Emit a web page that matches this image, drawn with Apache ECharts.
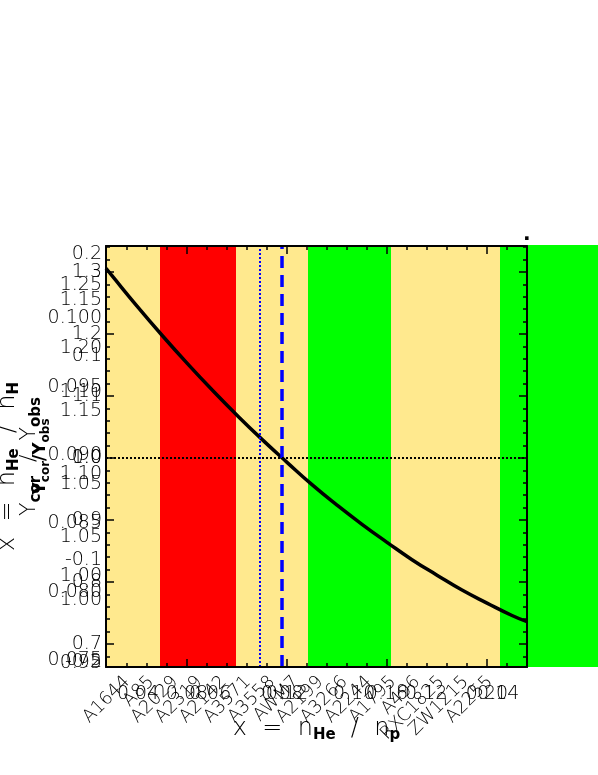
<!DOCTYPE html>
<html>
<head>
<meta charset="utf-8">
<script src="https://cdn.jsdelivr.net/npm/echarts@6/dist/echarts.min.js"></script>
<style>
  html, body { margin: 0; padding: 0; background: #fff; }
  #chart { width: 598px; height: 775px; }
</style>
</head>
<body>
<div id="chart"></div>
<script>
// curve: x = n_He / n_p (main axis units) vs Y_cor / Y_obs
const curveX = [0.0476, 0.05, 0.06, 0.07, 0.08, 0.09, 0.10, 0.11, 0.12, 0.13, 0.14, 0.15, 0.16, 0.17, 0.18, 0.19, 0.20, 0.21, 0.216]
const curveY = [1.306, 1.294, 1.245, 1.198, 1.153, 1.110, 1.069, 1.030, 0.993, 0.957, 0.924, 0.893, 0.864, 0.836, 0.811, 0.787, 0.766, 0.746, 0.736]

// coloured bands along x
const bandEdges = [0.0476, 0.0692, 0.0996, 0.1284, 0.1616, 0.2052, 0.216]
const bandColors = ['#ffe98e', '#ff0000', '#ffe98e', '#00ff00', '#ffe98e', '#00ff00']

// reference lines
const dottedX = 0.1092
const dashedX = 0.118
const refY = 1.0

// ticks of the frame
const majorX = [0.08, 0.12, 0.16, 0.20]
const minorX = [0.056, 0.064, 0.072, 0.088, 0.096, 0.104, 0.112, 0.128, 0.136, 0.144, 0.152, 0.168, 0.176, 0.184, 0.192, 0.208]
const majorY = [0.7, 0.8, 0.9, 1.0, 1.1, 1.2, 1.3]
const minorY = [0.68, 0.72, 0.74, 0.76, 0.78, 0.82, 0.84, 0.86, 0.88, 0.92, 0.94, 0.96, 0.98, 1.02, 1.04, 1.06, 1.08, 1.12, 1.14, 1.16, 1.18, 1.22, 1.24, 1.26, 1.28, 1.32, 1.34]

// extra tick label sets drawn on top of each other
const xLabels2 = [0.04, 0.06, 0.08, 0.10, 0.12, 0.14]
const yLabelsHeH = [0.075, 0.080, 0.085, 0.090, 0.095, 0.100]
const yLabelsC = [0.95, 1.00, 1.05, 1.10, 1.15, 1.20, 1.25]
const yLabelsD = [1.00, 1.05, 1.10, 1.15]
const yLabelsE = [-0.2, -0.1, 0.0, 0.1, 0.2]

const clusters = ['A1644', 'A85', 'A2029', 'A2319', 'A2142', 'A3571', 'A3558', 'AWM7', 'A2199', 'A3266', 'A2244', 'A1795', 'A496', 'RXC1825', 'ZW1215', 'A2255']

const FONT = 'DejaVu Sans'
const W = 200

function tickAxis(pos, min, max, values, len, showLine) {
  return {
    type: 'value', gridIndex: 0, position: pos, min: min, max: max, z: 5,
    axisLine: { show: showLine, onZero: false, lineStyle: { color: '#000', width: 2 } },
    axisTick: { show: true, inside: true, length: len, customValues: values, lineStyle: { color: '#000', width: 1.5 } },
    axisLabel: { show: false },
    splitLine: { show: false }
  }
}

function labelAxis(pos, min, max, values, digits, margin) {
  return {
    type: 'value', gridIndex: 0, position: pos, min: min, max: max,
    axisLine: { show: false }, axisTick: { show: false }, splitLine: { show: false },
    axisLabel: {
      customValues: values, margin: margin, color: '#000', fontFamily: FONT, fontWeight: W, fontSize: 19,
      formatter: v => v.toFixed(digits)
    }
  }
}

const subRich = { s: { fontFamily: FONT, fontSize: 15, fontWeight: 'bold', verticalAlign: 'bottom', padding: [14, 0, 0, 0] } }

const xMin = 0.0476, xMax = 0.216
const yMin = 0.6629, yMax = 1.3419

const xMain = tickAxis('bottom', xMin, xMax, majorX, 8, true)
xMain.axisLabel = { show: true, customValues: majorX, margin: 18, color: '#000', fontFamily: FONT, fontWeight: W, fontSize: 19, formatter: v => v.toFixed(2) }
xMain.name = 'x  =  n{s|He}  /  n{s|p}'
xMain.nameLocation = 'middle'
xMain.nameGap = 47
xMain.nameMoveOverlap = false
xMain.nameTextStyle = { color: '#000', fontFamily: FONT, fontWeight: W, fontSize: 24, rich: subRich }

const yMain = tickAxis('left', yMin, yMax, majorY, 8, true)
yMain.axisLabel = { show: true, customValues: majorY, margin: 4, color: '#000', fontFamily: FONT, fontWeight: W, fontSize: 19, formatter: v => v.toFixed(1) }
yMain.name = 'Y{s|cor}  /  Y{s|obs}'
yMain.nameLocation = 'middle'
yMain.nameGap = 62
yMain.nameMoveOverlap = false
yMain.nameTextStyle = { color: '#000', fontFamily: FONT, fontWeight: W, fontSize: 22, rich: subRich }

const yHeH = labelAxis('left', 0.0745, 0.1053, yLabelsHeH, 3, 4)
yHeH.name = 'x  =  n{s|He}  /  n{s|H}'
yHeH.nameLocation = 'middle'
yHeH.nameGap = 84
yHeH.nameMoveOverlap = false
yHeH.nameTextStyle = { color: '#000', fontFamily: FONT, fontWeight: W, fontSize: 24, padding: [0, 20, 0, 0], rich: subRich }

const yC = labelAxis('left', 0.9468, 1.281, yLabelsC, 2, 4)
yC.name = 'Y{t|cor}/Y{t|obs}'
yC.nameLocation = 'middle'
yC.nameGap = 54
yC.nameMoveOverlap = false
yC.nameTextStyle = {
  color: '#000', fontFamily: FONT, fontSize: 17, fontWeight: 'bold',
  rich: { t: { fontFamily: FONT, fontSize: 12, fontWeight: 'bold', verticalAlign: 'bottom', padding: [10, 0, 0, 0] } }
}

const option = {
  animation: false,
  backgroundColor: '#fff',
  title: { text: '.', left: 518, top: 220, textStyle: { fontFamily: FONT, fontSize: 20, fontWeight: 'bold', color: '#000' } },
  grid: [
    { left: 106, right: 71, top: 246, bottom: 108, containLabel: false, outerBoundsMode: 'none' },
    { left: 127, right: 108, top: 246, bottom: 108, containLabel: false, outerBoundsMode: 'none' },
    { left: 528, right: 0, top: 245, bottom: 108, containLabel: false, outerBoundsMode: 'none' }
  ],
  xAxis: [
    xMain,
    tickAxis('bottom', xMin, xMax, minorX, 4, false),
    tickAxis('top', xMin, xMax, majorX, 8, true),
    tickAxis('top', xMin, xMax, minorX, 4, false),
    labelAxis('bottom', 0.0311, 0.148, xLabels2, 2, 18),
    {
      type: 'category', gridIndex: 1, data: clusters, boundaryGap: false, position: 'bottom',
      axisLine: { show: false }, axisTick: { show: false }, splitLine: { show: false },
      axisLabel: { interval: 0, rotate: 45, margin: 12, color: '#000', fontFamily: FONT, fontWeight: W, fontSize: 18 }
    },
    { type: 'value', gridIndex: 2, min: 0, max: 1, show: false }
  ],
  yAxis: [
    yMain,
    tickAxis('left', yMin, yMax, minorY, 4, false),
    tickAxis('right', yMin, yMax, majorY, 8, true),
    tickAxis('right', yMin, yMax, minorY, 4, false),
    yHeH,
    yC,
    labelAxis('left', 0.9505, 1.1793, yLabelsD, 2, 4),
    labelAxis('left', -0.2049, 0.2078, yLabelsE, 1, 4),
    { type: 'value', gridIndex: 1, show: false },
    { type: 'value', gridIndex: 2, min: 0, max: 1, show: false }
  ],
  series: [
    {
      type: 'line',
      xAxisIndex: 0, yAxisIndex: 0,
      data: curveX.map((x, i) => [x, curveY[i]]),
      smooth: true,
      showSymbol: false,
      lineStyle: { color: '#000', width: 3.5 },
      z: 4,
      markArea: {
        silent: true,
        data: bandColors.map((c, i) => [{ xAxis: bandEdges[i], itemStyle: { color: c } }, { xAxis: bandEdges[i + 1] }])
      },
      markLine: {
        silent: true, symbol: 'none', precision: 4, label: { show: false },
        data: [
          { xAxis: dottedX, lineStyle: { type: 'dotted', color: '#0000ff', width: 2 } },
          { xAxis: dashedX, lineStyle: { type: [12, 7], color: '#0000ff', width: 3.5 } },
          { yAxis: refY, lineStyle: { type: 'dotted', color: '#000', width: 2 } }
        ]
      }
    },
    {
      type: 'line',
      xAxisIndex: 6, yAxisIndex: 9,
      data: [[0, 0]],
      showSymbol: false,
      lineStyle: { width: 0 },
      markArea: { silent: true, data: [[{ xAxis: 0, itemStyle: { color: '#00ff00' } }, { xAxis: 1 }]] }
    }
  ]
}

const chart = echarts.init(document.getElementById('chart'))
chart.setOption(option)
</script>
</body>
</html>
